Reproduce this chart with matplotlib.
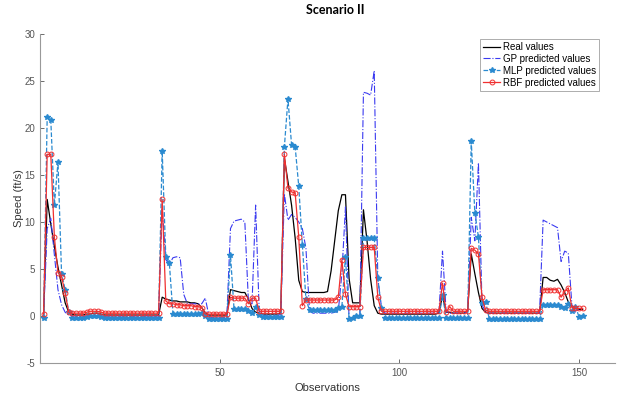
"""
Scenario II: real vs predicted speed (GP, MLP, RBF)
"""

import matplotlib.pyplot as plt
import numpy as np

# observation index 1..151
observations = list(range(1, 152))

real_values = [
    0.0, 12.4, 9.8, 7.4, 5.2, 3.3, 1.4, 0.4, 0.2, 0.1,
    0.1, 0.1, 0.2, 0.2, 0.3, 0.3, 0.2, 0.1, 0.1, 0.1,
    0.1, 0.1, 0.1, 0.1, 0.1, 0.1, 0.1, 0.1, 0.1, 0.1,
    0.1, 0.1, 0.1, 2.0, 1.8, 1.7, 1.6, 1.6, 1.5, 1.5,
    1.5, 1.4, 1.4, 1.3, 0.9, 0.3, 0.1, 0.1, 0.1, 0.1,
    0.1, 0.1, 2.8, 2.7, 2.6, 2.5, 2.5, 1.8, 0.8, 0.4,
    0.3, 0.2, 0.2, 0.2, 0.2, 0.2, 0.3, 16.8, 14.3, 11.8,
    8.3, 3.8, 2.6, 2.5, 2.5, 2.5, 2.5, 2.5, 2.5, 2.6,
    4.8, 8.0, 11.2, 12.9, 12.9, 4.0, 1.4, 1.4, 1.4, 11.3,
    8.0, 3.9, 1.1, 0.3, 0.2, 0.2, 0.2, 0.2, 0.2, 0.2,
    0.2, 0.2, 0.2, 0.2, 0.2, 0.2, 0.2, 0.2, 0.2, 0.2,
    0.3, 2.2, 0.4, 0.4, 0.3, 0.3, 0.3, 0.3, 0.5, 6.6,
    4.5, 2.5, 0.8, 0.4, 0.3, 0.3, 0.3, 0.3, 0.3, 0.3,
    0.3, 0.3, 0.3, 0.3, 0.3, 0.3, 0.3, 0.3, 0.3, 4.1,
    4.1, 3.8, 3.7, 3.9, 3.3, 2.5, 1.5, 1.0, 0.8, 0.7,
    0.7,
]

gp_values = [
    0.0, 9.3, 10.4, 6.5, 2.8, 1.2, 0.4, 0.1, 0.0, 0.0,
    0.0, 0.0, 0.0, 0.0, 0.0, 0.0, 0.0, 0.0, 0.0, 0.0,
    0.0, 0.0, 0.0, 0.0, 0.0, 0.0, 0.0, 0.0, 0.0, 0.0,
    0.0, 0.0, 0.0, 11.5, 6.0, 5.5, 6.2, 6.3, 6.2, 2.3,
    1.3, 1.3, 1.3, 1.3, 1.3, 1.9, 0.0, -0.2, -0.2, -0.2,
    -0.2, 0.0, 9.3, 10.1, 10.2, 10.3, 10.0, 1.5, 1.3, 11.8,
    0.5, 0.1, 0.0, 0.0, 0.0, 0.0, 0.2, 13.0, 10.2, 10.8,
    10.5, 10.0, 9.3, 7.2, 0.5, 0.3, 0.3, 0.3, 0.3, 0.3,
    0.3, 0.4, 0.5, 4.5, 11.6, -0.3, -0.3, -0.1, 0.0, 23.8,
    23.7, 23.5, 26.1, 4.0, 1.0, 0.3, 0.3, 0.3, 0.3, 0.3,
    0.3, 0.3, 0.3, 0.3, 0.3, 0.3, 0.3, 0.3, 0.3, 0.3,
    0.3, 6.9, 0.5, 0.3, 0.3, 0.3, 0.3, 0.3, 0.5, 10.5,
    8.0, 16.3, 1.2, 0.4, 0.3, 0.3, 0.3, 0.3, 0.3, 0.3,
    0.3, 0.3, 0.3, 0.3, 0.3, 0.3, 0.3, 0.3, 0.3, 10.2,
    10.0, 9.8, 9.6, 9.4, 5.8, 6.9, 6.7, 1.2, 0.4, 0.8,
    0.8,
]

mlp_values = [
    -0.2, 21.2, 20.9, 11.8, 16.4, 4.5, 2.8, 0.4, -0.2, -0.2,
    -0.2, -0.2, -0.1, 0.0, 0.0, 0.0, -0.1, -0.2, -0.2, -0.2,
    -0.2, -0.2, -0.2, -0.2, -0.2, -0.2, -0.2, -0.2, -0.2, -0.2,
    -0.2, -0.2, -0.2, 17.6, 6.3, 5.6, 0.2, 0.2, 0.2, 0.2,
    0.2, 0.2, 0.2, 0.2, 0.3, 0.0, -0.3, -0.3, -0.3, -0.3,
    -0.3, -0.3, 6.5, 0.7, 0.7, 0.7, 0.7, 0.5, 0.3, 1.0,
    0.1, -0.1, -0.1, -0.1, -0.1, -0.1, -0.1, 18.0, 23.1, 18.2,
    18.0, 13.8, 7.6, 1.8, 0.6, 0.6, 0.6, 0.6, 0.6, 0.6,
    0.6, 0.6, 0.8, 1.0, 6.3, -0.3, -0.2, 0.0, 0.0, 8.3,
    8.3, 8.3, 8.3, 4.0, 0.8, -0.2, -0.2, -0.2, -0.2, -0.2,
    -0.2, -0.2, -0.2, -0.2, -0.2, -0.2, -0.2, -0.2, -0.2, -0.2,
    -0.2, 2.2, -0.2, -0.2, -0.2, -0.2, -0.2, -0.2, -0.2, 18.6,
    11.0, 8.4, 1.4, 1.5, -0.3, -0.3, -0.3, -0.3, -0.3, -0.3,
    -0.3, -0.3, -0.3, -0.3, -0.3, -0.3, -0.3, -0.3, -0.3, 1.2,
    1.2, 1.2, 1.2, 1.2, 1.0, 0.8, 1.3, 0.5, 1.0, -0.1,
    0.0,
]

rbf_values = [
    0.2, 17.2, 17.2, 8.4, 4.6, 4.2, 2.4, 0.4, 0.3, 0.3,
    0.3, 0.3, 0.4, 0.5, 0.5, 0.5, 0.4, 0.3, 0.3, 0.3,
    0.3, 0.3, 0.3, 0.3, 0.3, 0.3, 0.3, 0.3, 0.3, 0.3,
    0.3, 0.3, 0.3, 12.4, 1.6, 1.3, 1.3, 1.2, 1.2, 1.1,
    1.1, 1.1, 1.0, 1.0, 0.9, 0.2, 0.2, 0.2, 0.2, 0.2,
    0.2, 0.2, 2.0, 1.9, 1.9, 1.9, 1.9, 1.3, 1.9, 1.9,
    0.5, 0.5, 0.5, 0.5, 0.5, 0.5, 0.5, 17.2, 13.6, 13.2,
    13.1, 8.4, 1.1, 1.7, 1.7, 1.7, 1.7, 1.7, 1.7, 1.7,
    1.7, 1.7, 2.0, 6.0, 2.3, 1.0, 1.0, 1.0, 1.0, 7.3,
    7.3, 7.3, 7.3, 2.0, 0.5, 0.5, 0.5, 0.5, 0.5, 0.5,
    0.5, 0.5, 0.5, 0.5, 0.5, 0.5, 0.5, 0.5, 0.5, 0.5,
    0.5, 3.5, 0.4, 1.0, 0.5, 0.5, 0.5, 0.5, 0.5, 7.2,
    7.0, 6.6, 2.0, 0.6, 0.5, 0.5, 0.5, 0.5, 0.5, 0.5,
    0.5, 0.5, 0.5, 0.5, 0.5, 0.5, 0.5, 0.5, 0.5, 2.8,
    2.8, 2.8, 2.8, 2.8, 2.0, 2.6, 3.0, 0.9, 0.8, 0.8,
    0.8,
]

x_ticks = [50, 100, 150]
y_ticks = [-5, 0, 5, 10, 15, 20, 25, 30]

plt.rcParams['font.family'] = ['Liberation Sans', 'DejaVu Sans']
plt.rcParams['axes.unicode_minus'] = False

fig = plt.figure(figsize=(6.19, 4.03), dpi=100)
ax = fig.add_axes([40 / 619, 40 / 403, 575 / 619, 329 / 403])

ax.plot(observations, real_values, color='black', linewidth=0.9, label='Real values')
ax.plot(observations, gp_values, color='#3a3af0', linestyle='-.', linewidth=0.8,
        label='GP predicted values')
ax.plot(observations, mlp_values, color='#2a8ad0', linestyle='--', linewidth=0.9,
        marker='*', markersize=4, label='MLP predicted values')
ax.plot(observations, rbf_values, color='#f03030', linestyle='-', linewidth=0.9,
        marker='o', markersize=3.5, markerfacecolor='none', markeredgewidth=0.7,
        label='RBF predicted values')

ax.set_xlim(0, 160)
ax.set_ylim(-5, 30)
ax.set_xticks(x_ticks)
ax.set_yticks(y_ticks)
ax.tick_params(direction='in', length=3, width=0.6, colors='#555555', labelsize=7)
for side in ['top', 'right']:
    ax.spines[side].set_visible(False)
for side in ['left', 'bottom']:
    ax.spines[side].set_color('#999999')
    ax.spines[side].set_linewidth(0.8)

ax.set_xlabel('Observations', fontsize=8, color='#333333', labelpad=4)
ax.set_ylabel('Speed (ft/s)', fontsize=8, color='#333333', labelpad=0.5)
fig.suptitle('Scenario II', x=335 / 619, y=1 - 4 / 403, fontsize=9,
             fontweight='bold', family='Lato', va='top')

leg = ax.legend(loc='upper left', bbox_to_anchor=(480 / 619, 1 - 39 / 403),
                bbox_transform=fig.transFigure, fontsize=7, frameon=True,
                fancybox=False, edgecolor='#888888', handlelength=1.8,
                handletextpad=0.3, borderpad=0.3, labelspacing=0.2,
                borderaxespad=0)
leg.get_frame().set_linewidth(0.6)

fig.savefig('out.png', dpi=100)
